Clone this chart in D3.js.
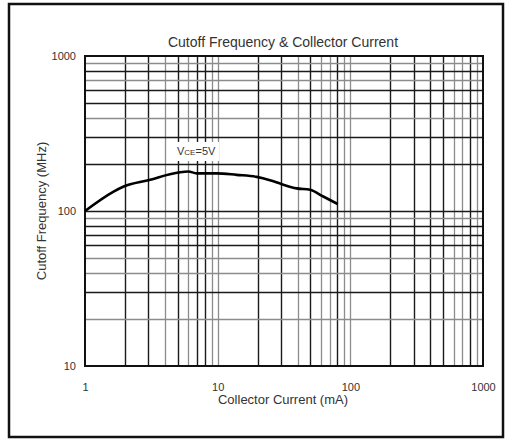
<!DOCTYPE html>
<html>
<head>
<meta charset="utf-8">
<script src="https://cdn.jsdelivr.net/npm/d3@7"></script>
<style>
  html, body { margin: 0; padding: 0; background: #fff; }
  svg { display: block; font-family: "Liberation Sans", Arial, sans-serif; }
</style>
</head>
<body>
<svg id="chart" width="512" height="441"></svg>
<script>
// ---- data ----
const collectorCurrentMA = [1, 1.63, 1.94, 3.0, 5.05, 6.0, 6.95, 9.84, 13.9, 19.7, 24.8, 30.4, 39.4, 49.7, 62.5, 80.3];
const cutoffFreqMHz      = [100, 133, 143.5, 158, 177, 180, 175, 175, 171, 166, 158, 149, 140, 137, 124, 111];
const xTickLabels = [1, 10, 100, 1000];
const yTickLabels = [10, 100, 1000];
const xGridValues = [2,3,4,5,6,7,8,9,10,20,30,40,50,60,70,80,90,100,200,300,400,500,600,700,800,900];
const yGridValues = [20,30,40,50,60,70,80,90,100,200,300,400,500,600,700,800,900];
const xGridDark = [2,3,5,7,8,20,30,50,80,200,300,400,500,800];
const yGridDark = [30,60,70,80,100,200,300,500,600,800];
const titleText = "Cutoff Frequency & Collector Current";
const xTitle = "Collector Current (mA)";
const yTitle = "Cutoff Frequency (MHz)";

// ---- layout ----
const svg = d3.select("#chart");
const L = 85, R = 483, T = 56, B = 366;
const x = d3.scaleLog().domain([1, 1000]).range([L, R]);
const y = d3.scaleLog().domain([10, 1000]).range([B, T]);

// outer frame
svg.append("rect").attr("x", 9).attr("y", 4).attr("width", 494).attr("height", 433)
  .attr("fill", "none").attr("stroke", "#111").attr("stroke-width", 2.5);

// grid
const g = svg.append("g");
g.selectAll("line.vx").data(xGridValues).join("line")
  .attr("x1", d => Math.round(x(d)) + 0.5).attr("x2", d => Math.round(x(d)) + 0.5)
  .attr("y1", T).attr("y2", B)
  .attr("stroke", d => xGridDark.includes(d) ? "#1a1a1a" : "#8c8c8c")
  .attr("stroke-width", d => xGridDark.includes(d) ? 1.4 : 1.3);
g.selectAll("line.hy").data(yGridValues).join("line")
  .attr("y1", d => Math.round(y(d)) + 0.5).attr("y2", d => Math.round(y(d)) + 0.5)
  .attr("x1", L).attr("x2", R)
  .attr("stroke", d => yGridDark.includes(d) ? "#1a1a1a" : "#8c8c8c")
  .attr("stroke-width", d => yGridDark.includes(d) ? 1.4 : 1.3);

// label background + label
const lab = svg.append("g");
lab.append("rect").attr("x", 176).attr("y", 142).attr("width", 43).attr("height", 19).attr("fill", "#fff");
const t = lab.append("text").attr("x", 177).attr("y", 155).attr("fill", "#333").attr("font-size", 11);
t.append("tspan").text("V");
t.append("tspan").attr("font-size", 8).text("CE");
t.append("tspan").text("=5V");

// plot border
svg.append("rect").attr("x", L).attr("y", T).attr("width", R - L).attr("height", B - T)
  .attr("fill", "none").attr("stroke", "#111").attr("stroke-width", 2);

// curve
const pts = collectorCurrentMA.map((c, i) => [c, cutoffFreqMHz[i]]);
svg.append("path").datum(pts)
  .attr("d", d3.line().x(d => x(d[0])).y(d => y(d[1])).curve(d3.curveMonotoneX))
  .attr("fill", "none").attr("stroke", "#000").attr("stroke-width", 2.6)
  .attr("stroke-linejoin", "round");

// axes
const xAxis = svg.append("g").attr("transform", `translate(0,${B})`)
  .call(d3.axisBottom(x).tickValues(xTickLabels).tickFormat(d3.format("d")).tickSize(0).tickPadding(17));
xAxis.select(".domain").remove();
xAxis.selectAll("text").attr("font-size", 11).attr("fill", "#333").attr("font-family", "Liberation Sans, Arial, sans-serif");

const yAxis = svg.append("g").attr("transform", `translate(${L},0)`)
  .call(d3.axisLeft(y).tickValues(yTickLabels).tickFormat(d3.format("d")).tickSize(0).tickPadding(9));
yAxis.select(".domain").remove();
yAxis.selectAll("text").attr("font-size", 11).attr("fill", "#333").attr("font-family", "Liberation Sans, Arial, sans-serif");

// titles
svg.append("text").attr("x", 283).attr("y", 47).attr("text-anchor", "middle")
  .attr("font-size", 14).attr("fill", "#333").text(titleText);
svg.append("text").attr("x", 283).attr("y", 404).attr("text-anchor", "middle")
  .attr("font-size", 13).attr("fill", "#333").text(xTitle);
svg.append("text").attr("transform", `translate(46,${(T + B) / 2}) rotate(-90)`).attr("text-anchor", "middle")
  .attr("font-size", 13).attr("fill", "#333").text(yTitle);
</script>
</body>
</html>
